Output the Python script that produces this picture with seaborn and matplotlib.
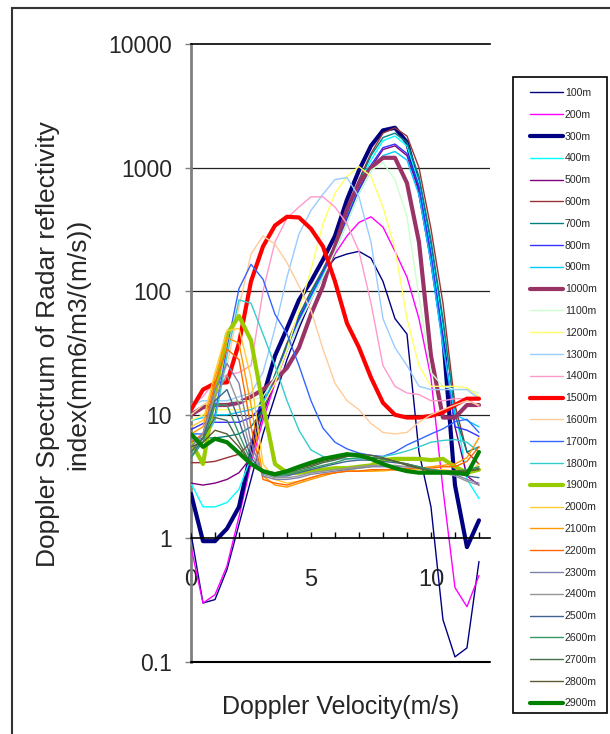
import matplotlib
matplotlib.use("Agg")
import matplotlib.pyplot as plt
from matplotlib.patches import Rectangle
from matplotlib.ticker import NullLocator, FixedLocator
import seaborn as sns

sns.set_style("white")
plt.rcParams['font.family'] = ['Liberation Sans', 'DejaVu Sans']

# Doppler velocity grid (m/s)
velocity = [0, 0.5, 1, 1.5, 2, 2.5, 3, 3.5, 4, 4.5, 5, 5.5, 6, 6.5, 7, 7.5, 8, 8.5, 9, 9.5, 10, 10.5, 11, 11.5, 12]

heights = ["100m", "200m", "300m", "400m", "500m", "600m", "700m", "800m", "900m", "1000m",
           "1100m", "1200m", "1300m", "1400m", "1500m", "1600m", "1700m", "1800m", "1900m", "2000m",
           "2100m", "2200m", "2300m", "2400m", "2500m", "2600m", "2700m", "2800m", "2900m"]

h100 = [1.1, 0.3, 0.32, 0.56, 1.3, 3.0, 7, 14, 28, 50, 85, 140, 185, 200, 210, 185, 120, 60, 45, 5, 1.8, 0.22, 0.11, 0.13, 0.65]
h200 = [0.85, 0.3, 0.35, 0.6, 1.5, 4.0, 9, 18, 33, 55, 85, 130, 200, 280, 360, 400, 330, 210, 130, 60, 20, 2.5, 0.4, 0.28, 0.5]
h300 = [2.3, 0.95, 0.95, 1.2, 1.8, 5, 14, 30, 50, 85, 120, 180, 280, 550, 950, 1500, 2000, 2100, 1600, 700, 200, 45, 2.7, 0.85, 1.4]
h400 = [2.8, 1.8, 1.8, 1.95, 2.5, 4.5, 11, 20, 36, 62, 95, 145, 230, 400, 700, 1150, 1650, 1800, 1500, 750, 220, 50, 12, 3.0, 2.1]
h500 = [2.8, 2.7, 2.8, 3.0, 3.4, 4.5, 10, 19, 34, 58, 90, 140, 220, 380, 650, 1000, 1400, 1500, 1250, 650, 180, 40, 8, 3.2, 2.7]
h600 = [4.1, 4.1, 4.2, 4.5, 4.8, 6, 11, 21, 38, 64, 100, 150, 240, 440, 800, 1300, 1900, 2100, 1800, 1000, 320, 80, 12, 5, 4]
h700 = [6, 6.5, 6.5, 6.7, 7, 8, 11, 21, 37, 63, 98, 148, 235, 420, 760, 1250, 1750, 1900, 1600, 850, 260, 60, 10, 5, 5.5]
h800 = [7.6, 8.5, 8.7, 8.7, 8.7, 9.5, 12, 20, 35, 60, 92, 142, 225, 390, 670, 1050, 1450, 1550, 1300, 700, 200, 40, 8, 7.5, 6.7]
h900 = [9, 9.5, 10, 10, 10.5, 11, 12.5, 20, 33, 56, 88, 135, 210, 360, 620, 950, 1250, 1350, 1150, 600, 170, 35, 10, 9, 8]
h1000 = [10, 11.5, 12, 12, 12.5, 14, 16, 19, 24, 35, 65, 110, 230, 460, 750, 1000, 1200, 1200, 750, 250, 30, 9.5, 9.5, 12, 12]
h1100 = [12, 13, 13, 13, 13, 13, 14, 20, 33, 55, 85, 130, 210, 360, 620, 950, 1100, 800, 400, 90, 22, 17, 16, 16, 15]
h1200 = [9, 10, 11, 11, 11, 11.5, 12, 18, 34, 70, 150, 350, 620, 850, 1020, 850, 480, 220, 60, 25, 17, 17, 17, 16.5, 14]
h1300 = [12, 13, 13, 13, 14, 15, 22, 50, 130, 290, 450, 610, 800, 830, 580, 250, 60, 35, 25, 17, 16, 16, 16, 16, 13.5]
h1400 = [12, 14, 19, 21, 22, 25, 100, 250, 390, 480, 580, 580, 480, 350, 210, 80, 25, 17, 15, 14.6, 13, 13, 13.5, 13.5, 11.7]
h1500 = [11, 16, 18, 18.3, 38, 120, 230, 340, 400, 395, 320, 230, 120, 55, 35, 20, 12.5, 10, 9.5, 9.5, 9.8, 10.5, 12, 13.5, 13.5]
h1600 = [10, 12, 14, 25, 75, 200, 280, 240, 170, 110, 70, 34, 18, 13, 11, 8.5, 7.2, 7, 7.2, 8.7, 10, 11, 12, 13, 12]
h1700 = [7, 7, 10, 35, 105, 165, 125, 65, 45, 25, 13, 7.8, 6, 5.3, 4.9, 4.7, 4.6, 5, 5.7, 6.3, 7, 7.7, 8.8, 9.2, 7.2]
h1800 = [5, 6, 9, 30, 85, 80, 45, 25, 13, 7.5, 5.2, 4.6, 4.4, 4.4, 4.4, 4.5, 4.6, 4.8, 5.1, 5.5, 6, 6.2, 6.3, 6, 5]
h1900 = [6, 4, 15, 45, 63, 40, 12, 4, 3.4, 3.4, 3.5, 3.6, 3.7, 3.7, 3.8, 3.9, 4.3, 4.4, 4.4, 4.4, 4.3, 4.4, 3.8, 3.4, 3.6]
h2000 = [8, 9, 22, 48, 50, 20, 4, 3.0, 2.8, 2.9, 3.1, 3.3, 3.4, 3.5, 3.5, 3.5, 3.5, 3.6, 3.6, 3.6, 3.6, 3.6, 3.5, 3.3, 4.0]
h2100 = [7, 8, 20, 42, 38, 12, 3.2, 2.7, 2.6, 2.8, 3.0, 3.2, 3.4, 3.5, 3.5, 3.5, 3.6, 3.6, 3.6, 3.7, 3.8, 3.9, 4.0, 4.5, 6.5]
h2200 = [6, 7, 18, 34, 28, 8, 3.0, 2.8, 2.7, 2.9, 3.1, 3.3, 3.4, 3.5, 3.5, 3.6, 3.6, 3.6, 3.7, 3.7, 3.7, 3.8, 3.8, 4.2, 5.5]
h2300 = [5.5, 7, 16, 26, 18, 6, 3.2, 3.0, 3.0, 3.1, 3.3, 3.4, 3.5, 3.6, 3.7, 3.8, 3.8, 3.8, 3.8, 3.7, 3.6, 3.5, 3.3, 3.0, 2.8]
h2400 = [5, 7, 14, 21, 12, 5, 3.3, 3.1, 3.1, 3.2, 3.4, 3.5, 3.6, 3.7, 3.8, 3.9, 3.9, 3.9, 3.8, 3.7, 3.6, 3.4, 3.2, 2.9, 2.7]
h2500 = [4.5, 6.5, 13, 16, 9, 4.5, 3.4, 3.2, 3.2, 3.4, 3.6, 3.8, 4.0, 4.2, 4.3, 4.3, 4.2, 4.1, 4.0, 3.8, 3.6, 3.5, 3.4, 3.2, 3.1]
h2600 = [4.5, 6, 12, 12, 7, 4.2, 3.4, 3.2, 3.3, 3.5, 3.7, 3.9, 4.1, 4.4, 4.5, 4.5, 4.4, 4.2, 4.0, 3.8, 3.6, 3.5, 3.5, 3.6, 3.8]
h2700 = [5, 6.5, 9.5, 9, 6, 4.0, 3.4, 3.3, 3.4, 3.6, 3.8, 4.1, 4.3, 4.6, 4.7, 4.5, 4.4, 4.2, 4.0, 3.7, 3.5, 3.5, 3.5, 3.5, 3.7]
h2800 = [5.5, 6, 7.5, 7, 5.5, 4.0, 3.5, 3.4, 3.5, 3.7, 3.9, 4.2, 4.4, 4.6, 4.8, 4.7, 4.5, 4.2, 3.9, 3.7, 3.5, 3.4, 3.5, 3.5, 3.6]
h2900 = [7, 5.5, 6.4, 6.0, 4.9, 4.0, 3.5, 3.3, 3.5, 3.8, 4.1, 4.4, 4.6, 4.8, 4.7, 4.4, 4.0, 3.7, 3.5, 3.4, 3.4, 3.4, 3.4, 3.3, 5.0]

series = [h100, h200, h300, h400, h500, h600, h700, h800, h900, h1000,
          h1100, h1200, h1300, h1400, h1500, h1600, h1700, h1800, h1900, h2000,
          h2100, h2200, h2300, h2400, h2500, h2600, h2700, h2800, h2900]

colors = ["#000080", "#FF00FF", "#000080", "#00FFFF", "#800080", "#993333", "#008080", "#3333FF", "#00CCFF", "#993366",
          "#CCFFCC", "#FFFF66", "#99CCFF", "#FF99CC", "#FF0000", "#FFCC99", "#3366FF", "#33CCCC", "#99CC00", "#FFCC33",
          "#FF9900", "#FF6600", "#8080B0", "#969696", "#3F6490", "#339966", "#48704A", "#5C5C33", "#008000"]
thick = {"300m", "1000m", "1500m", "1900m", "2900m"}

fig = plt.figure(figsize=(6.1, 7.34), dpi=100)
fig.patch.set_facecolor("white")
ax = fig.add_axes([191/610, 1-662/734, 299/610, 618/734])

for name, vals, col in zip(heights, series, colors):
    lw = 3.0 if name in thick else 1.0
    sns.lineplot(x=velocity, y=vals, color=col, linewidth=lw, label=name, ax=ax, zorder=3)

ax.set_yscale('log')
ax.set_ylim(0.1, 10000)
ax.set_xlim(0, 12.46)

# gridlines at decades
for g in [10, 100, 1000]:
    ax.axhline(g, color="#222222", lw=0.9, zorder=1)
ax.axhline(0.1, color="black", lw=1.5, zorder=4, clip_on=False)

ax.spines['right'].set_visible(False)
ax.spines['top'].set_color('black')
ax.spines['top'].set_linewidth(1.2)
ax.spines['left'].set_color('#808080')
ax.spines['left'].set_linewidth(2)
ax.spines['bottom'].set_position(('data', 1))
ax.spines['bottom'].set_color('black')
ax.spines['bottom'].set_linewidth(1.2)
ax.spines['bottom'].set_zorder(4)

ax.set_yticks([0.1, 1, 10, 100, 1000, 10000])
ax.set_yticklabels(["0.1", "1", "10", "100", "1000", "10000"])
ax.yaxis.set_minor_locator(NullLocator())
ax.tick_params(axis='y', which='major', direction='out', length=4.3, width=1,
               color='#808080', pad=9.5, labelsize=16.5, left=True)

ax.set_xticks([0, 5, 10])
ax.set_xticklabels(["0", "5", "10"])
ax.xaxis.set_minor_locator(FixedLocator(list(range(0, 13))))
ax.tick_params(axis='x', which='both', direction='in', length=4.5, width=1,
               color='black', bottom=True)
ax.tick_params(axis='x', which='major', pad=22, labelsize=17)

ax.set_xlabel("")
ax.set_ylabel("")

fig.text(63/610, 1-344/734, "Doppler Spectrum of Radar reflectivity\nindex(mm6/m3/(m/s))",
         rotation=90, ha='center', va='center', fontsize=19, linespacing=1.3, multialignment='center')
fig.text(341/610, 1-707/734, "Doppler Velocity(m/s)", ha='center', va='center', fontsize=18)

leg = ax.legend(loc='upper left', bbox_to_anchor=(530/610, 1-88/734),
                bbox_transform=fig.transFigure, borderaxespad=0, borderpad=0,
                fontsize=7.6, handlelength=3.1, handletextpad=0.2, labelspacing=1.118,
                frameon=False)

fig.add_artist(Rectangle((513/610, 1-713/734), 94/610, (713-77)/734, transform=fig.transFigure,
                         fill=False, edgecolor='black', linewidth=1.2))
fig.add_artist(Rectangle((12/610, -0.05), 1.2, 1-8/734+0.05, transform=fig.transFigure,
                         fill=False, edgecolor='#333333', linewidth=1.5))

fig.savefig("out.png", dpi=100, facecolor="white")
